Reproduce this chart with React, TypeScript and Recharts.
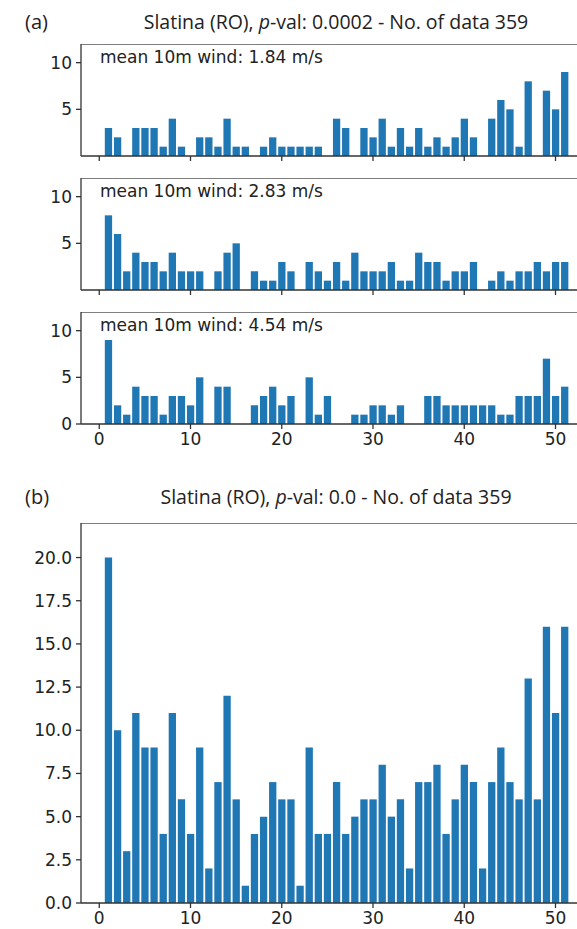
import React from 'react';
import { BarChart, Bar, XAxis, YAxis, ReferenceLine } from 'recharts';

// week of year (x) for every bar
const weeks = [
  1, 2, 3, 4, 5, 6, 7, 8, 9, 10, 11, 12, 13, 14, 15, 16, 17, 18, 19, 20, 21, 22, 23, 24, 25,
  26, 27, 28, 29, 30, 31, 32, 33, 34, 35, 36, 37, 38, 39, 40, 41, 42, 43, 44, 45, 46, 47, 48,
  49, 50, 51,
];

// (a) counts per wind class
const windLow = [
  3, 2, 0, 3, 3, 3, 1, 4, 1, 0, 2, 2, 1, 4, 1, 1, 0, 1, 2, 1, 1, 1, 1, 1, 0, 4, 3, 0, 3, 2, 4,
  1, 3, 1, 3, 1, 2, 1, 2, 4, 2, 0, 4, 6, 5, 1, 8, 0, 7, 5, 9,
];
const windMid = [
  8, 6, 2, 4, 3, 3, 2, 4, 2, 2, 2, 0, 2, 4, 5, 0, 2, 1, 1, 3, 2, 0, 3, 2, 1, 3, 1, 4, 2, 2, 2,
  3, 1, 1, 4, 3, 3, 1, 2, 2, 3, 0, 1, 2, 1, 2, 2, 3, 2, 3, 3,
];
const windHigh = [
  9, 2, 1, 4, 3, 3, 1, 3, 3, 2, 5, 0, 4, 4, 0, 0, 2, 3, 4, 2, 3, 0, 5, 1, 3, 0, 0, 1, 1, 2, 2,
  1, 2, 0, 0, 3, 3, 2, 2, 2, 2, 2, 2, 1, 1, 3, 3, 3, 7, 3, 4,
];
// (b) all data
const windAll = [
  20, 10, 3, 11, 9, 9, 4, 11, 6, 4, 9, 2, 7, 12, 6, 1, 4, 5, 7, 6, 6, 1, 9, 4, 4, 7, 4, 5, 6, 6,
  8, 5, 6, 2, 7, 7, 8, 4, 6, 8, 7, 2, 7, 9, 7, 6, 13, 6, 16, 11, 16,
];

const meanLabels = ['mean 10m wind: 1.84 m/s', 'mean 10m wind: 2.83 m/s', 'mean 10m wind: 4.54 m/s'];
const xTicks = [0, 10, 20, 30, 40, 50];
const smallTicks = [0, 5, 10];
const bigTicks = [0, 2.5, 5, 7.5, 10, 12.5, 15, 17.5, 20];

const tickFont = { fill: '#222', fontSize: 17, fontFamily: 'DejaVu Sans' };
const titleFont = "'Open Sans', sans-serif";

interface PanelProps {
  values: number[];
  top: number;
  plotHeight: number;
  yMax: number;
  yTicks: number[];
  xLabels: boolean;
  yFmt: (v: number) => string;
}

const Panel: React.FC<PanelProps> = ({ values, top, plotHeight, yMax, yTicks, xLabels, yFmt }) => {
  const data = weeks.map((w, i) => ({ week: w, count: values[i] }));
  const xh = xLabels ? 34 : 8;
  return (
    <div style={{ position: 'absolute', left: 0, top }}>
      <BarChart width={600} height={plotHeight + xh} data={data} margin={{ top: 0, right: 8, bottom: 0, left: 0 }}>
        <XAxis
          dataKey="week"
          type="number"
          domain={[-2, 54]}
          ticks={xTicks}
          allowDataOverflow
          height={xh}
          stroke="#333"
          strokeWidth={1.3}
          tickSize={5}
          tickMargin={4}
          tick={tickFont}
          tickFormatter={xLabels ? (v: number) => String(v) : () => ''}
        />
        <YAxis
          type="number"
          domain={[0, yMax]}
          ticks={yTicks}
          allowDataOverflow
          width={81}
          stroke="#333"
          strokeWidth={1.3}
          tickSize={5}
          tickMargin={4}
          tick={tickFont}
          tickFormatter={yFmt}
        />
        <ReferenceLine y={yMax} stroke="#555" strokeWidth={1.6} />
        <Bar dataKey="count" fill="#1f77b4" barSize={7.3} isAnimationActive={false} />
      </BarChart>
    </div>
  );
};

const txt = (left: number, baseline: number, font: string, size: number, content: React.ReactNode, center = false) => (
  <div
    style={{
      position: 'absolute',
      left,
      top: baseline - size * 0.9,
      fontFamily: font,
      fontSize: size,
      lineHeight: `${size}px`,
      color: '#222',
      whiteSpace: 'nowrap',
      transform: center ? 'translateX(-50%)' : undefined,
    }}
  >
    {content}
  </div>
);

export default function App() {
  const intFmt = (v: number) => String(v);
  const decFmt = (v: number) => v.toFixed(1);
  return (
    <div style={{ position: 'absolute', left: 0, top: 0, width: 577, height: 929, overflow: 'hidden', background: '#fff' }}>
      <Panel values={windLow} top={44} plotHeight={112} yMax={12} yTicks={smallTicks} xLabels={false} yFmt={intFmt} />
      <Panel values={windMid} top={177.5} plotHeight={112} yMax={12} yTicks={smallTicks} xLabels={false} yFmt={intFmt} />
      <Panel values={windHigh} top={312} plotHeight={112} yMax={12} yTicks={smallTicks} xLabels={true} yFmt={intFmt} />
      <Panel values={windAll} top={523} plotHeight={380} yMax={22} yTicks={bigTicks} xLabels={true} yFmt={decFmt} />

      {txt(25, 30, titleFont, 20, '(a)')}
      {txt(336, 30, titleFont, 19.5, <>Slatina (RO), <i>p</i>-val: 0.0002 - No. of data 359</>, true)}
      {txt(100, 64, 'DejaVu Sans', 17, meanLabels[0])}
      {txt(100, 198, 'DejaVu Sans', 17, meanLabels[1])}
      {txt(100, 332, 'DejaVu Sans', 17, meanLabels[2])}
      {txt(25, 505, titleFont, 20, '(b)')}
      {txt(336, 505, titleFont, 19.5, <>Slatina (RO), <i>p</i>-val: 0.0 - No. of data 359</>, true)}
    </div>
  );
}
